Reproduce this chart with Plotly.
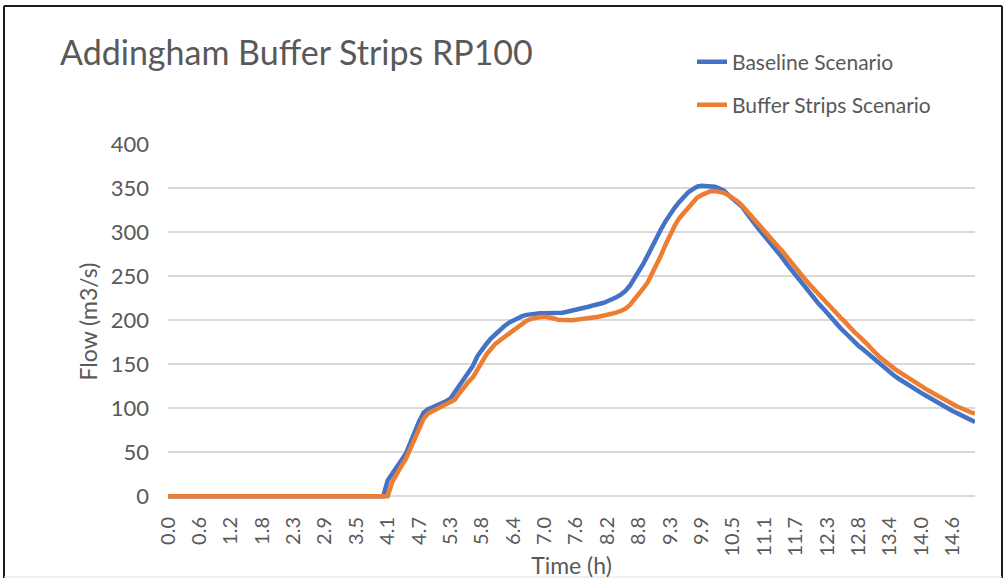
import plotly.graph_objects as go

# Time axis: 5-minute steps from 0 to 15 h
step_minutes = 5
n_points = 181
time_h = [round(i * step_minutes / 60, 4) for i in range(n_points)]

tick_labels = ["0.0", "0.6", "1.2", "1.8", "2.3", "2.9", "3.5", "4.1", "4.7", "5.3",
               "5.8", "6.4", "7.0", "7.6", "8.2", "8.8", "9.3", "9.9", "10.5", "11.1",
               "11.7", "12.3", "12.8", "13.4", "14.0", "14.6"]
tick_positions = [time_h[i * 7] for i in range(len(tick_labels))]

baseline = [0] * 49 + [
    18, 25, 32, 40, 48, 60, 73, 85, 95, 99, 101, 103, 105, 108, 111, 118, 126, 133, 140, 148,
    159, 167, 173, 179, 184, 189, 193, 197, 200, 203, 204.5, 206, 207, 207.6, 208, 208, 208, 208,
    208, 208.5, 209.5, 210.5, 211.5, 213, 214, 215.5, 217, 218, 219.5, 221.5, 223.5, 226, 229, 233,
    239, 247, 255, 264, 273.5, 284, 294, 303.5, 312.5, 320.5, 327.5, 334, 339.5, 345, 348.5, 351.5,
    352.5, 352.5, 352.5, 351.5, 349.5, 347, 342, 338, 334, 329, 322, 314.5, 308.5, 302, 296, 289,
    283, 277, 271, 264, 257.5, 251, 244, 237.5, 231.5, 225.5, 219.5, 214, 208, 202, 196.5, 191,
    186, 180.5, 176, 171, 167, 162.5, 158, 153.5, 149, 145, 141, 137, 133.5, 130, 126.5, 123.5,
    120.5, 117.5, 114.5, 111.5, 108.5, 105, 102, 99.5, 97, 94.5, 92, 89.5, 87, 84.5]

buffer_strips = [0] * 50 + [
    16, 26, 34, 42, 54, 66, 77, 88, 94, 97, 100, 102, 104.5, 107, 110, 117, 124, 130, 135,
    144, 153, 161, 167, 173, 177, 181, 185, 189, 193, 197, 199.5, 201.5, 203, 203.5, 204, 203.5, 202,
    200.5, 200, 200, 200, 200.5, 201, 202, 203, 203.5, 204, 205, 206, 207, 208.5, 210.5, 213,
    217, 223, 229.5, 236, 243, 253, 263, 274, 286, 297.5, 307, 315.5, 321.5, 327, 333, 339,
    342, 344.5, 346.5, 346.5, 346, 344.5, 342, 339, 335, 330.5, 324.5, 318.5, 313, 308, 301.5, 295,
    289.5, 284, 278.5, 272, 264.5, 258.5, 253, 247, 241, 235.5, 229.5, 223.5, 218.5, 213, 208.5, 203,
    198, 192, 187, 182.5, 178, 172.5, 167, 161.5, 157, 153, 148.5, 145, 141.5, 138, 134.5, 131.5,
    128.5, 125, 122, 119, 116, 113, 110, 107, 104.5, 102, 100, 97.5, 95.5, 94]

FONT = "Lato, 'Open Sans', sans-serif"
GREY = "#595959"

W, H = 1006, 579
ML, MR, MT, MB = 168, 31, 144, 80
pw, ph = W - ML - MR, H - MT - MB


def px(x):
    return (x - ML) / pw


def py(y):
    return (H - MB - y) / ph


fig = go.Figure()
fig.add_trace(go.Scatter(x=time_h, y=baseline, mode="lines", name="Baseline Scenario",
                         line=dict(color="#4472C4", width=4.5), legend="legend", showlegend=True))
fig.add_trace(go.Scatter(x=time_h, y=buffer_strips, mode="lines", name="Buffer Strips Scenario",
                         line=dict(color="#ED7D31", width=4.5), legend="legend2", showlegend=True))

legend_common = dict(font=dict(family=FONT, size=21, color=GREY), bgcolor="rgba(0,0,0,0)",
                     xanchor="left", yanchor="middle", itemwidth=30, visible=True)

fig.update_layout(
    width=W, height=H,
    showlegend=True,
    margin=dict(l=ML, r=MR, t=MT, b=MB, autoexpand=False),
    paper_bgcolor="white", plot_bgcolor="white",
    font=dict(family=FONT, color=GREY),
    title=dict(text="Addingham Buffer Strips RP100", font=dict(family=FONT, size=34, color=GREY),
               x=60 / W, xanchor="left", xref="container",
               y=1 - 53 / H, yanchor="middle", yref="container"),
    legend=dict(x=px(692), y=py(62), **legend_common),
    legend2=dict(x=px(692), y=py(105), **legend_common),
    xaxis=dict(range=[0, 15], tickmode="array", tickvals=tick_positions, ticktext=tick_labels,
               tickangle=-90, tickfont=dict(family=FONT, size=20, color=GREY),
               showgrid=False, zeroline=False, showline=False, ticks="",
               ticklabelstandoff=13,
               title=dict(text="Time (h)", font=dict(family=FONT, size=23, color=GREY), standoff=3)),
    yaxis=dict(range=[-3, 400], tick0=0, dtick=50, tickfont=dict(family=FONT, size=22, color=GREY),
               showgrid=True, gridcolor="#d9d9d9", gridwidth=1.5, zeroline=False, showline=False,
               ticks="", ticklabelstandoff=18,
               title=dict(text="Flow (m3/s)", font=dict(family=FONT, size=23, color=GREY), standoff=6)),
    shapes=[
        dict(type="line", xref="paper", yref="paper", x0=px(4), x1=px(1002), y0=py(6), y1=py(6),
             line=dict(color="#1a1a1a", width=2)),
        dict(type="line", xref="paper", yref="paper", x0=px(4), x1=px(4), y0=py(6), y1=py(578),
             line=dict(color="#1a1a1a", width=2)),
        dict(type="line", xref="paper", yref="paper", x0=px(1002), x1=px(1002), y0=py(6), y1=py(578),
             line=dict(color="#1a1a1a", width=2)),
        dict(type="line", xref="paper", yref="paper", x0=px(4), x1=px(1002), y0=py(577), y1=py(577),
             line=dict(color="#e0e0e0", width=1)),
    ],
)

fig.write_html("out.html", config={"displayModeBar": False},
               post_script="document.body.style.margin='0';document.body.style.overflow='hidden';")
